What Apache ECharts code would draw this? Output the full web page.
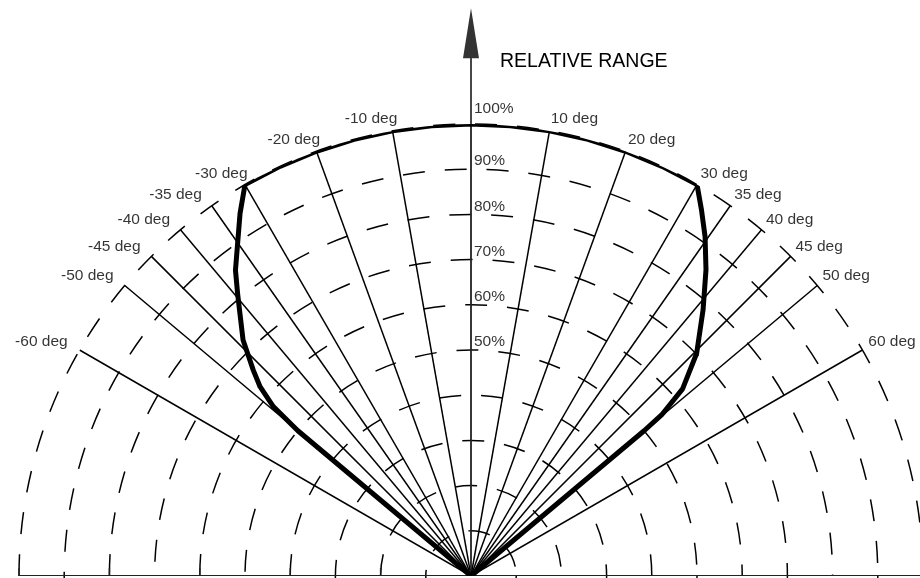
<!DOCTYPE html>
<html><head><meta charset="utf-8">
<script src="https://cdn.jsdelivr.net/npm/echarts@6/dist/echarts.min.js"></script>
<style>html,body{margin:0;padding:0;background:#fff}#c{width:920px;height:578px}</style>
</head><body><div id="c"></div>
<script>
// spokes (degrees off boresight)
const spokeAngles = [-60, -50, -45, -40, -35, -30, -20, -10, 0, 10, 20, 30, 35, 40, 45, 50, 60];
const spokeLabels = ['-60 deg', '-50 deg', '-45 deg', '-40 deg', '-35 deg', '-30 deg', '-20 deg', '-10 deg', '', '10 deg', '20 deg', '30 deg', '35 deg', '40 deg', '45 deg', '50 deg', '60 deg'];
// relative-range rings labelled on the boresight
const percentLevels = [50, 60, 70, 80, 90, 100];
const percentLabels = ['50%', '60%', '70%', '80%', '90%', '100%'];
// tick marks on the left half of the baseline (relative range %)
const baselineTicks = [20, 40, 60, 80, 100];
// coverage pattern: relative range (%) and angle (deg)
const patternRange = [0, 50, 57.6, 62.7, 66.3, 72.6, 81, 85.4, 90, 95.1, 100, 100, 100, 100, 100, 100, 100, 100, 100, 100, 100, 100, 100, 95.7, 91.2, 85.4, 78.1, 70.1, 62.5, 55.2, 50, 0];
const patternAngle = [-50, -50, -49.4, -48.1, -46.6, -44, -39.6, -37.6, -35, -32.5, -30, -25, -20, -15, -10, -5, 0, 5, 10, 15, 20, 25, 30, 32.2, 34.6, 37.5, 41.1, 45.4, 48.5, 49.8, 50, 50];
const titleText = 'RELATIVE RANGE';

const FONT = "'Liberation Sans', Arial, sans-serif";
const chart = echarts.init(document.getElementById('c'), null, {renderer: 'canvas'});

const series = [];
// baseline
series.push({type: 'line', coordinateSystem: 'polar', data: [[100, -90], [0, 0], [100, 90]], symbol: 'none', clip: false, silent: true,
  lineStyle: {color: '#222', width: 2}, z: 3});
// baseline ticks (pointing up)
series.push({type: 'scatter', coordinateSystem: 'polar', data: baselineTicks.map(r => [r, -90]), clip: false, silent: true,
  symbol: 'rect', symbolSize: [1.5, 8], symbolOffset: [0, '-50%'], itemStyle: {color: '#222'}, z: 3});
// spokes
spokeAngles.forEach(a => {
  series.push({type: 'line', coordinateSystem: 'polar', data: [[0, a], [100, a]], symbol: 'none', clip: false, silent: true,
    lineStyle: {color: a === 0 ? '#222' : '#000', width: a === 0 ? 1.8 : 1.5}, z: 3});
});
// boresight arrow (stem above the 100% ring + head)
series.push({type: 'scatter', coordinateSystem: 'polar', data: [[112.8, 0]], clip: false, silent: true,
  symbol: 'path://M8,0 L16,50 L8.9,50 L8.9,116 L7.1,116 L7.1,50 L0,50 Z', symbolSize: [16, 116],
  itemStyle: {color: '#000'}, z: 4});
// pattern
series.push({type: 'line', coordinateSystem: 'polar', data: patternRange.map((r, i) => [r, patternAngle[i]]), symbol: 'none', clip: false, silent: true,
  lineStyle: {color: '#000', width: 5, join: 'round', cap: 'round'}, z: 5});
// spoke labels
series.push({type: 'scatter', coordinateSystem: 'polar', symbolSize: 0, clip: false, silent: true, z: 6,
  data: spokeAngles.map((a, i) => ({value: [101.5, a], name: spokeLabels[i],
    label: a > 0 ? {align: 'left', offset: [0, -5]} : {align: 'right', offset: [a >= -30 ? 6 : -6, -5]}})).filter(d => d.name),
  label: {show: true, position: 'inside', formatter: p => p.name, color: '#000', fontSize: 15.5, fontFamily: FONT, verticalAlign: 'middle'}});
// percent labels
series.push({type: 'scatter', coordinateSystem: 'polar', symbolSize: 0, clip: false, silent: true, z: 6,
  data: percentLevels.map((p, i) => ({value: [p, 0], name: percentLabels[i], label: {offset: [3, p === 100 ? -7 : 0]}})),
  label: {show: true, position: 'inside', formatter: p => p.name, color: '#000', fontSize: 15.5, fontFamily: FONT, align: 'left', verticalAlign: 'bottom'}});

const dash = {type: [22, 20], color: '#000', width: 1.5};
chart.setOption({
  animation: false,
  backgroundColor: '#fff',
  title: {text: titleText, left: 500, top: 52, padding: 0, textStyle: {fontSize: 19.5, fontWeight: 'normal', color: '#000', fontFamily: FONT}},
  polar: {center: [471, 576], radius: 452},
  angleAxis: {type: 'value', min: -90, max: 90, startAngle: 180, endAngle: 0, clockwise: true,
    axisLine: {show: false}, axisTick: {show: false}, axisLabel: {show: false}, splitLine: {show: false}},
  radiusAxis: {type: 'value', min: 0, max: 100, interval: 20,
    axisLine: {show: false}, axisTick: {show: false}, axisLabel: {show: false},
    splitLine: {show: true, lineStyle: dash},
    minorTick: {show: false, splitNumber: 2},
    minorSplitLine: {show: true, lineStyle: dash}},
  series: series
});
</script></body></html>
